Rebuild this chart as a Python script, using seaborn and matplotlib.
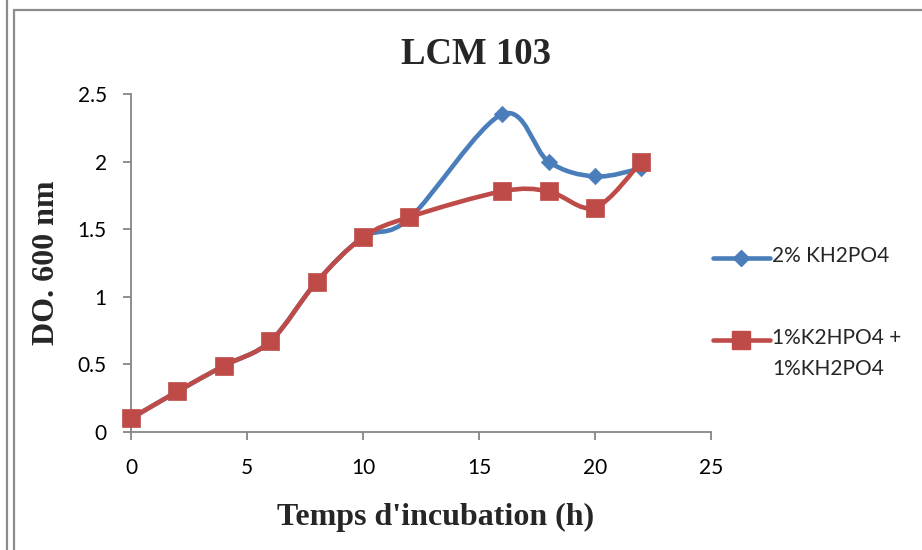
import numpy as np
import pandas as pd
import seaborn as sns
import matplotlib
matplotlib.use("Agg")
import matplotlib.pyplot as plt
from matplotlib.path import Path
from matplotlib.patches import PathPatch
from matplotlib.lines import Line2D
from matplotlib.ticker import FuncFormatter

# ---- data ----
hours = [0, 2, 4, 6, 8, 10, 12, 16, 18, 20, 22]
kh2po4_2pct = [0.10, 0.30, 0.49, 0.67, 1.11, 1.44, 1.58, 2.35, 2.00, 1.89, 1.95]
mix_1pct = [0.10, 0.30, 0.49, 0.67, 1.11, 1.44, 1.59, 1.78, 1.78, 1.66, 2.00]
series_names = ["2% KH2PO4", "1%K2HPO4 +\n1%KH2PO4"]
title = "LCM 103"
xlabel = "Temps d'incubation (h)"
ylabel = "DO. 600 nm"
xticks = [0, 5, 10, 15, 20, 25]
yticks = [0, 0.5, 1, 1.5, 2, 2.5]

colors = ["#4A7EBB", "#BE4B48"]
markers = ["D", "s"]
msizes = [70, 175]

df = pd.DataFrame({
    "hours": hours * 2,
    "do": kh2po4_2pct + mix_1pct,
    "series": [series_names[0]] * len(hours) + [series_names[1]] * len(hours),
})

sns.set_style("white")
plt.rcParams["font.family"] = ["Lato", "DejaVu Sans"]

W, H = 922, 550
fig = plt.figure(figsize=(W / 100, H / 100), dpi=100)
ax = fig.add_axes([131 / W, 1 - 432 / H, 580 / W, 338 / H])


def smooth_path(x, y):
    """Catmull-Rom style smoothed path through the data points (Excel 'smoothed line')."""
    pts = np.column_stack([x, y]).astype(float)
    n = len(pts)
    verts = [pts[0]]
    codes = [Path.MOVETO]
    for i in range(n - 1):
        p0 = pts[i - 1] if i > 0 else pts[i]
        p1 = pts[i]
        p2 = pts[i + 1]
        p3 = pts[i + 2] if i + 2 < n else pts[i + 1]
        c1 = p1 + (p2 - p0) / 6.0
        c2 = p2 - (p3 - p1) / 6.0
        verts += [c1, c2, p2]
        codes += [Path.CURVE4] * 3
    return Path(verts, codes)


for k, name in enumerate(series_names):
    sub = df[df["series"] == name]
    patch = PathPatch(smooth_path(sub["hours"].values, sub["do"].values),
                      facecolor="none", edgecolor=colors[k], lw=3.3,
                      capstyle="round", joinstyle="round", zorder=2 + 2 * k)
    ax.add_patch(patch)
    sns.scatterplot(data=sub, x="hours", y="do", marker=markers[k], s=msizes[k],
                    color=colors[k], edgecolor=colors[k], linewidth=0.5,
                    legend=False, ax=ax, zorder=3 + 2 * k, clip_on=False)

ax.set_xlim(0, 25)
ax.set_ylim(0, 2.5)
ax.set_xticks(xticks)
ax.set_yticks(yticks)
ax.yaxis.set_major_formatter(FuncFormatter(lambda v, p: f"{v:g}"))
ax.xaxis.set_major_formatter(FuncFormatter(lambda v, p: f"{v:g}"))

axis_gray = "#868686"
for s in ["top", "right"]:
    ax.spines[s].set_visible(False)
for s in ["left", "bottom"]:
    ax.spines[s].set_color(axis_gray)
    ax.spines[s].set_linewidth(1.3)
ax.tick_params(axis="both", which="major", direction="out", length=5.5,
               width=1.3, color=axis_gray, labelsize=15, labelcolor="black")
ax.tick_params(axis="y", pad=12, left=True)
ax.tick_params(axis="x", pad=13, bottom=True)

ax.set_xlabel(xlabel, fontsize=23, fontweight="bold", family="Liberation Serif")
ax.set_ylabel(ylabel, fontsize=23, fontweight="bold", family="Liberation Serif")
ax.xaxis.set_label_coords((436 - 131) / 580, (432 - 517) / 338)
ax.xaxis.label.set_va("center")
ax.yaxis.set_label_coords((47 - 131) / 580, (432 - 263) / 338)
ax.yaxis.label.set_va("center")

fig.text(476 / W, 1 - 54 / H, title, fontsize=26.5, fontweight="bold",
         family="Liberation Serif", ha="center", va="center")

# ---- legend (drawn in figure space) ----
leg_y = [258, 340]
for k, name in enumerate(series_names):
    y = 1 - leg_y[k] / H
    fig.add_artist(Line2D([713 / W, 741 / W, 770 / W], [y, y, y], color=colors[k], lw=3.3,
                          marker=markers[k], markevery=[1],
                          markersize=8.5 if k == 0 else 13, solid_capstyle="round",
                          transform=fig.transFigure))
    fig.text(772 / W, y + 12.5 / H, name, fontsize=15, ha="left", va="top",
             transform=fig.transFigure, linespacing=1.7)

# ---- chart frame borders ----
frame_gray = "#8C8C8C"
fig.add_artist(Line2D([7 / W, 7 / W], [0, 1], color=frame_gray, lw=1.6, transform=fig.transFigure))
fig.add_artist(Line2D([14 / W, 14 / W], [0, 1 - 10 / H], color=frame_gray, lw=1.6, transform=fig.transFigure))
fig.add_artist(Line2D([14 / W, 1], [1 - 10 / H, 1 - 10 / H], color=frame_gray, lw=1.6, transform=fig.transFigure))

fig.savefig("out.png", dpi=100, facecolor="white")
